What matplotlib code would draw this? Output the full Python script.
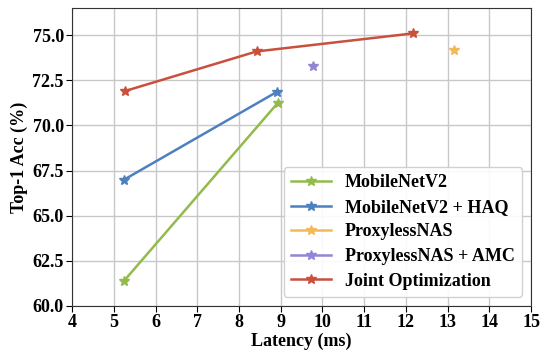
import matplotlib
matplotlib.use("Agg")
import matplotlib.pyplot as plt

labels = ["MobileNetV2", "MobileNetV2 + HAQ", "ProxylessNAS", "ProxylessNAS + AMC", "Joint Optimization"]
mbv2_x = [5.25, 8.93]
mbv2_y = [61.4, 71.25]
haq_x = [5.25, 8.9]
haq_y = [67.0, 71.85]
proxyless_x = [13.15]
proxyless_y = [74.2]
amc_x = [9.78]
amc_y = [73.3]
joint_x = [5.26, 8.42, 12.17]
joint_y = [71.9, 74.1, 75.1]
colors = ["#93BA4C", "#4C80BF", "#F2B95A", "#9185D8", "#C8503D"]

plt.rcParams['font.family'] = ['Liberation Serif', 'DejaVu Serif']
plt.rcParams['font.weight'] = 'bold'

fig = plt.figure(figsize=(5.42, 3.54), dpi=100)
ax = fig.add_axes([0.133, 0.136, 0.847, 0.841])

series = [(mbv2_x, mbv2_y), (haq_x, haq_y), (proxyless_x, proxyless_y), (amc_x, amc_y), (joint_x, joint_y)]
for (xs, ys), lab, c in zip(series, labels, colors):
    ax.plot(xs, ys, '-*', color=c, label=lab, linewidth=1.8, markersize=7)

ax.set_xlim(4, 15)
ax.set_ylim(60, 76.5)
ax.set_xticks(range(4, 16))
ax.set_yticks([60, 62.5, 65, 67.5, 70, 72.5, 75])
ax.set_yticklabels(["60.0", "62.5", "65.0", "67.5", "70.0", "72.5", "75.0"])
ax.grid(True, color="#c8c8c8", linewidth=1)
ax.set_axisbelow(True)
for s in ax.spines.values():
    s.set_color("#333333")
ax.tick_params(labelsize=13, length=4, pad=2)
for t in ax.get_xticklabels() + ax.get_yticklabels():
    t.set_fontweight('bold')
ax.set_xlabel("Latency (ms)", fontsize=13, fontweight='bold', labelpad=1)
ax.set_ylabel("Top-1 Acc (%)", fontsize=13, fontweight='bold', labelpad=3)
leg = ax.legend(loc='lower right', prop={'size': 13, 'weight': 'bold'}, handlelength=2.2,
                fancybox=True, framealpha=0.9, borderpad=0.4, labelspacing=0.42)
fig.savefig("out.png", dpi=100)
